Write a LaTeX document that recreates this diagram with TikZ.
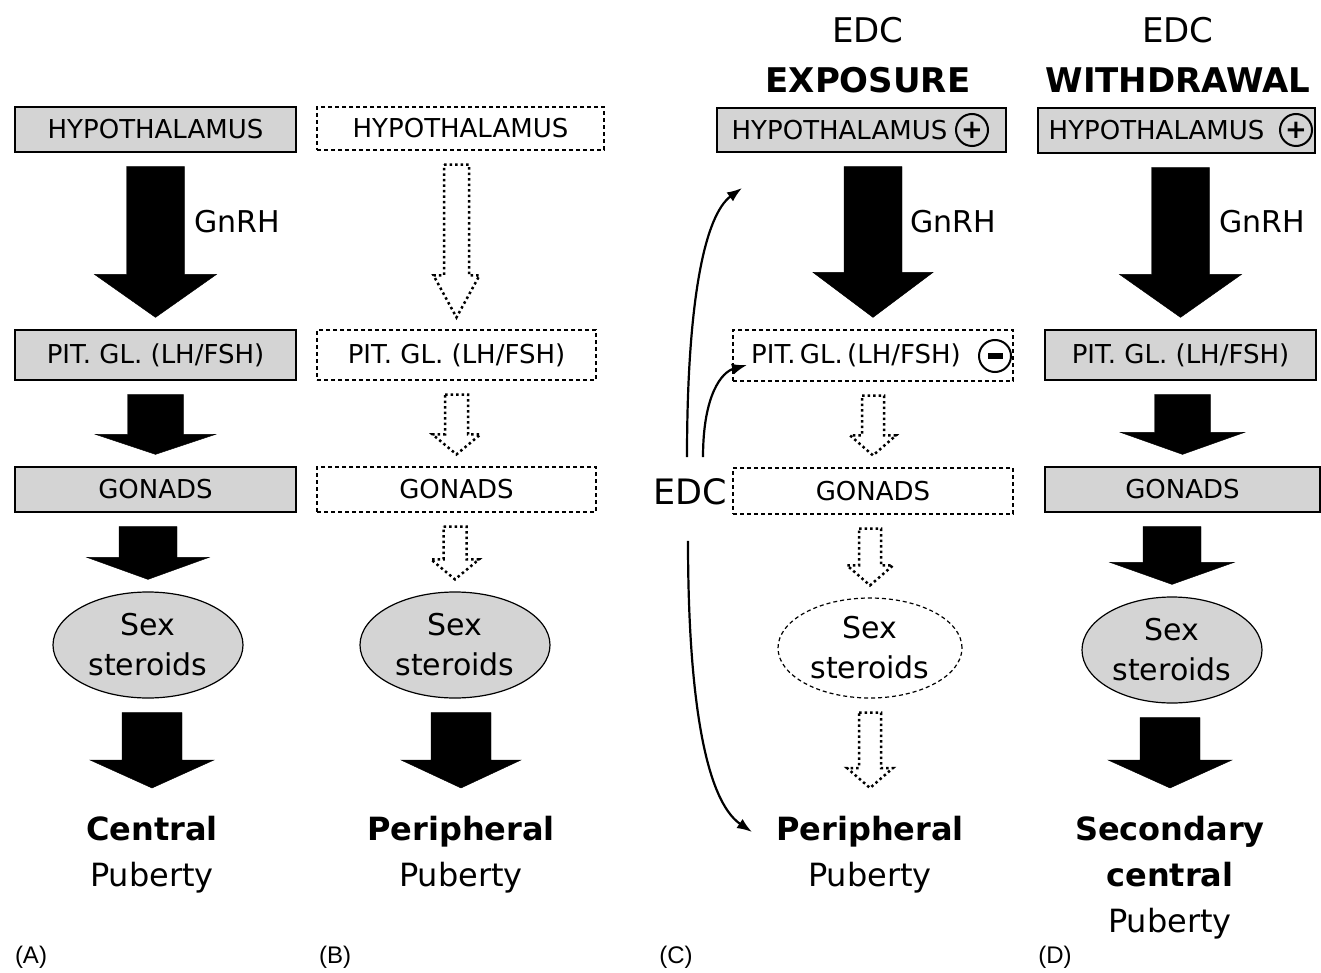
\documentclass[tikz,border=0pt]{standalone}
\usepackage{fontspec}
\setmainfont{DejaVu Sans}
\newfontfamily\tagfont{Liberation Sans}
\usetikzlibrary{calc,shapes.geometric,arrows.meta}
\definecolor{boxgray}{gray}{0.83}
\newcommand{\fs}[2]{\fontsize{#1}{#2}\selectfont}
% Blockpfeil: [Stil]{von}{nach}{Schaft/2}{Spitze/2}{Spitzenlaenge}
\newcommand{\blkarrow}[6][full]{%
	\draw[#1] let \p1=(#2), \p2=(#3) in
		(\x2-#4pt,\y1-14pt) -- (\x2+#4pt,\y1-14pt) -- (\x2+#4pt,\y2+12pt+#6pt)
		-- (\x2+#5pt,\y2+12pt+#6pt) -- (\x2,\y2+12pt) -- (\x2-#5pt,\y2+12pt+#6pt)
		-- (\x2-#4pt,\y2+12pt+#6pt) -- cycle ;}
\tikzset{
	organ/.style={line width=1.2pt, minimum height=45pt, inner sep=0pt, font=\fs{26}{30}},
	shaded/.style={organ, draw, fill=boxgray},
	faint/.style={organ, draw, dash pattern=on 4pt off 3pt},
	steroid/.style={ellipse, draw, line width=1.2pt, fill=boxgray, minimum width=190pt, minimum height=106pt, inner sep=0pt, align=center, font=\fs{30}{40}},
	outcome/.style={align=center, inner sep=0pt, outer sep=16pt, font=\fs{32}{46}},
	full/.style={fill=black, draw=black},
	hollow/.style={draw=black, line width=2.5pt, dash pattern=on 2.5pt off 3pt},
	edcline/.style={-{Latex[length=15pt,width=11pt]}, line width=2.2pt},
	sign/.style={circle, draw, line width=2pt, minimum size=32pt, inner sep=0pt, font=\fs{26}{30}\bfseries},
	panel/.style={font=\tagfont\fs{24}{28}},
}
\begin{document}
\begin{tikzpicture}[x=1pt,y=-1pt]
	\useasboundingbox (0,0) rectangle (1321,973) ;
%%% (A) normale Pubertaet
	\node[shaded, minimum width=281pt] (hypA) at (155.5,129.5) {HYPOTHALAMUS} ;
	\node[shaded, minimum width=281pt, minimum height=50pt] (pitA) at (155.5,355) {PIT. GL. (LH/FSH)} ;
	\node[shaded, minimum width=281pt] (gonA) at (155.5,489.5) {GONADS} ;
	\node[steroid] (sexA) at (148,645) {Sex\\steroids} ;
	\node[outcome, anchor=north] (outA) at (152,800) {\textbf{Central}\\Puberty} ;
	\node[font=\fs{30}{34}] (gnA) at (237,222) {GnRH} ;
	\blkarrow{hypA.south}{pitA.north}{29}{61}{43}
	\blkarrow{pitA.south}{gonA.north}{28}{60}{20}
	\blkarrow{gonA.south}{sexA.north}{29}{61}{22}
	\blkarrow{sexA.south}{outA.north}{30}{62}{28}
	\node[panel] (tagA) at (31,957) {(A)} ;
%%% (B) periphere Pubertaet
	\node[faint, minimum width=287pt, minimum height=43pt] (hypB) at (460.5,128.5) {HYPOTHALAMUS} ;
	\node[faint, minimum width=279pt, minimum height=50pt] (pitB) at (456.5,355) {PIT.\ GL.\ (LH/FSH)} ;
	\node[faint, minimum width=279pt] (gonB) at (456.5,489.5) {GONADS} ;
	\node[steroid] (sexB) at (455,645) {Sex\\steroids} ;
	\node[outcome, anchor=north] (outB) at (461,800) {\textbf{Peripheral}\\Puberty} ;
	\blkarrow[hollow]{hypB.south}{pitB.north}{12.5}{23}{42}
	\blkarrow[hollow]{pitB.south}{gonB.north}{11.5}{24}{20}
	\blkarrow[hollow]{gonB.south}{sexB.north}{11.5}{24}{20}
	\blkarrow{sexB.south}{outB.north}{30}{60}{28}
	\node[panel] (tagB) at (335,957) {(B)} ;
%%% (C) EDC Exposition
	\node[font=\fs{34}{50}, align=center] (titC) at (868,55) {EDC\\\textbf{EXPOSURE}} ;
	\node[shaded, minimum width=289pt, minimum height=44pt] (hypC) at (861.5,130) {HYPOTHALAMUS\kern44pt} ;
	\node[sign] (plusC) at (972,130) {+} ;
	\node[faint, minimum width=280pt, minimum height=51pt] (pitC) at (873,355.5) {PIT.\,GL.\,(LH/FSH)\kern34pt} ;
	\node[sign] (minusC) at (995,356) {\rule{15pt}{6pt}} ;
	\node[faint, minimum width=280pt, minimum height=46pt] (gonC) at (873,491) {GONADS} ;
	\node[steroid, fill=none, dash pattern=on 4pt off 3pt, minimum width=184pt, minimum height=100pt] (sexC) at (870,648) {Sex\\steroids} ;
	\node[outcome, anchor=north] (outC) at (870,800) {\textbf{Peripheral}\\Puberty} ;
	\node[font=\fs{30}{34}] (gnC) at (953,222) {GnRH} ;
	\blkarrow{hypC.south}{pitC.north}{29}{60}{45}
	\blkarrow[hollow]{pitC.south}{gonC.north}{11}{23}{20}
	\blkarrow[hollow]{gonC.south}{sexC.north}{11}{23}{20}
	\blkarrow[hollow]{sexC.south}{outC.north}{11}{23}{20}
	\node[font=\fs{35}{40}] (edc) at (690,492) {EDC} ;
	\coordinate (hitH) at (742,188) ;
	\coordinate (hitP) at (747,365) ;
	\coordinate (hitO) at (752,832) ;
	\draw[edcline] ([xshift=-3pt,yshift=18pt]edc.north) .. controls +(0,-158) and +(-37,27) .. (hitH) ;
	\draw[edcline] ([xshift=13pt,yshift=18pt]edc.north) .. controls +(0,-63) and +(-25,7) .. (hitP) ;
	\draw[edcline] ([xshift=-2pt,yshift=-32pt]edc.south) .. controls +(0,155) and +(-47,-32) .. (hitO) ;
	\node[panel] (tagC) at (676,957) {(C)} ;
%%% (D) EDC Entzug
	\node[font=\fs{34}{50}, align=center] (titD) at (1178,55) {EDC\\\textbf{WITHDRAWAL}} ;
	\node[shaded, minimum width=277pt] (hypD) at (1176.5,130.5) {HYPOTHALAMUS\kern40pt} ;
	\node[sign] (plusD) at (1296,130) {+} ;
	\node[shaded, minimum width=271pt, minimum height=50pt] (pitD) at (1180.5,355) {PIT.\ GL.\ (LH/FSH)} ;
	\node[shaded, minimum width=275pt] (gonD) at (1182.5,489.5) {GONADS} ;
	\node[steroid, minimum width=180pt] (sexD) at (1172,650) {Sex\\steroids} ;
	\node[outcome, anchor=north] (outD) at (1170,800) {\textbf{Secondary}\\\textbf{central}\\Puberty} ;
	\node[font=\fs{30}{34}] (gnD) at (1262,222) {GnRH} ;
	\blkarrow{hypD.south}{pitD.north}{29}{61}{43}
	\blkarrow{pitD.south}{gonD.north}{28}{62}{22}
	\blkarrow{gonD.south}{sexD.north}{29}{62}{22}
	\blkarrow{sexD.south}{outD.north}{30}{62}{28}
	\node[panel] (tagD) at (1055,957) {(D)} ;
\end{tikzpicture}
\end{document}
